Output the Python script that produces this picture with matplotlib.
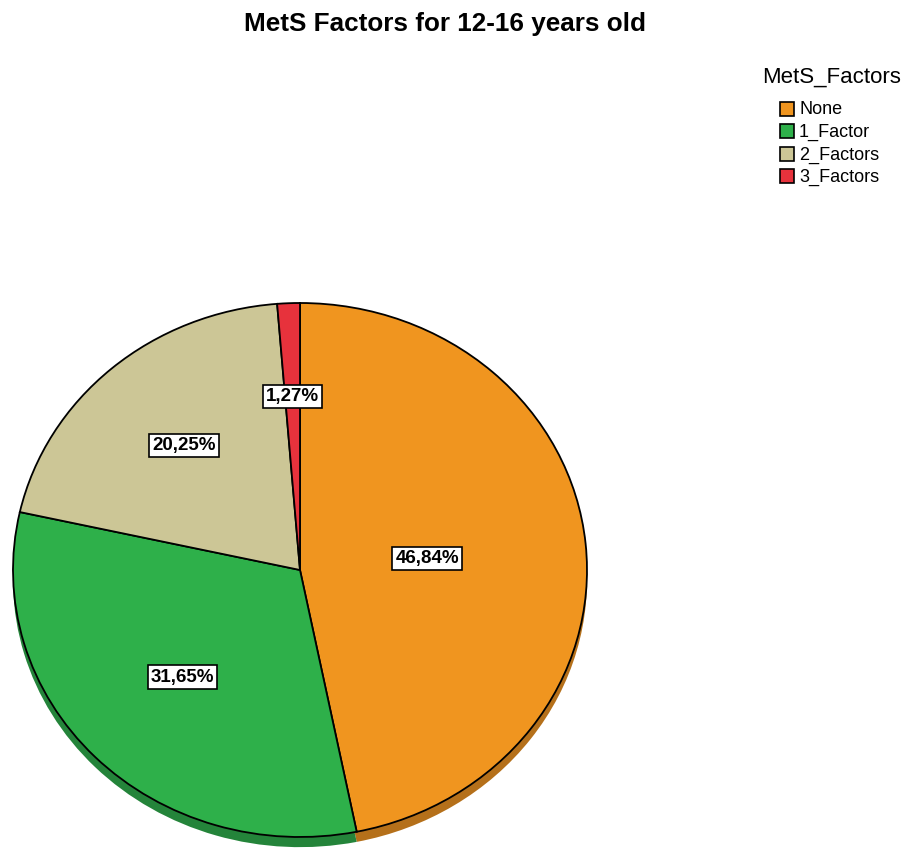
import matplotlib
matplotlib.use("Agg")
import matplotlib.pyplot as plt
from matplotlib.patches import Rectangle
import numpy as np

plt.rcParams['font.family'] = ['Liberation Sans', 'DejaVu Sans']

# ---- data ----
categories = ["None", "1_Factor", "2_Factors", "3_Factors"]
percentages = [46.84, 31.65, 20.25, 1.27]
label_texts = ["46,84%", "31,65%", "20,25%", "1,27%"]
title = "MetS Factors for 12-16 years old"
legend_title = "MetS_Factors"

# ---- style ----
colors = ["#F0951F", "#2EB04A", "#CCC696", "#E7323C"]
shadow_colors = ["#B5701A", "#24843A", "#99946F", "#AD252D"]
label_radius = [0.445, 0.573, 0.617, 0.65]
depth = 0.038

fig = plt.figure(figsize=(9.05, 8.5), dpi=100)
ax = fig.add_axes([13/905, 13/850, 574/905, 534/850])

# shadow (depth) pie
sw, _ = ax.pie(percentages, startangle=90, counterclock=False,
               colors=shadow_colors, center=(0, -depth),
               wedgeprops=dict(linewidth=0))
for w in sw:
    w.set_clip_on(False)
    w.set_zorder(1)

wedges, _ = ax.pie(percentages, startangle=90, counterclock=False,
                   colors=colors,
                   wedgeprops=dict(edgecolor="black", linewidth=1.3))
for w in wedges:
    w.set_clip_on(False)
    w.set_zorder(2)

ax.set_aspect('auto')
ax.set_xlim(-1, 1)
ax.set_ylim(-1, 1)
ax.axis('off')

# labels
for w, txt, r in zip(wedges, label_texts, label_radius):
    mid = np.deg2rad((w.theta1 + w.theta2) / 2)
    ax.text(r * np.cos(mid), r * np.sin(mid), txt, ha='center', va='center',
            fontsize=13.5, fontweight='bold', zorder=5,
            bbox=dict(boxstyle='square,pad=0.17', facecolor='white',
                      edgecolor='black', linewidth=1.2))

# title
fig.text(445/905, 1 - 24/850, title, ha='center', va='center',
         fontsize=18.8, fontweight='bold')

# legend
fig.text(762/905, 1 - 77/850, legend_title, ha='left', va='center', fontsize=16)
ys = [109, 131, 154, 176]
for i, (cat, col) in enumerate(zip(categories, colors)):
    y = ys[i]
    fig.patches.append(Rectangle((780/905, 1 - (y + 7)/850), 14/905, 14/850,
                                 transform=fig.transFigure, facecolor=col,
                                 edgecolor='black', linewidth=1.2))
    fig.text(799/905, 1 - (y + 1)/850, cat, ha='left', va='center', fontsize=13)

fig.savefig("out.png", dpi=100)
